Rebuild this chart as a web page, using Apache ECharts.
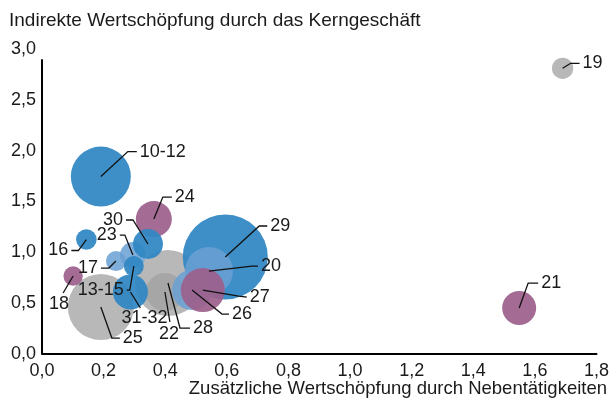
<!DOCTYPE html>
<html>
<head>
<meta charset="utf-8">
<script src="https://cdn.jsdelivr.net/npm/echarts@6/dist/echarts.min.js"></script>
<style>html,body{margin:0;padding:0;background:#fff}#c{width:612px;height:400px}</style>
</head>
<body>
<div id="c"></div>
<script>
// ---- data (draw order) ----
const labels = ['25','28','22','18','16','10-12','24','29','20','26','27','23','17','30','13-15','31-32','19','21'];
const xValues = [0.191,0.409,0.399,0.101,0.144,0.191,0.363,0.595,0.542,0.487,0.522,0.295,0.240,0.344,0.298,0.287,1.690,1.549];
const yValues = [0.462,0.698,0.610,0.767,1.126,1.745,1.327,0.954,0.816,0.629,0.629,0.973,0.914,1.082,0.865,0.610,2.81,0.452];
const bubbleValues = [10.9,10.9,3.6,0.94,1.06,9.0,3.24,18.1,5.76,4.0,4.84,1.69,1.0,2.25,1.0,3.06,1.14,2.89];
const groups = ['gray','gray','gray','purple','blue','blue','purple','blue','light','light','purple','light','light','blue','blue','blue','gray','purple'];
const xTickLabels = ['0,0','0,2','0,4','0,6','0,8','1,0','1,2','1,4','1,6','1,8'];
const yTickLabels = ['0,0','0,5','1,0','1,5','2,0','2,5','3,0'];
const yAxisLineTop = 2.9;

// ---- styles ----
const groupStyle = {
  blue:   {color:'#2f87c3', opacity:0.93},
  light:  {color:'#6aa0d4', opacity:0.85},
  purple: {color:'#9c5f8b', opacity:0.92},
  gray:   {color:'#a0a0a0', opacity:0.75}
};
// leader line layout in pixels: elbow (ex,ey), end (tx,ty), text anchor
const leaderLayout = {
  '19':   {ex:8, ey:-5, tx:17, ty:-5, align:'left'},
  '21':   {ex:9, ey:-25, tx:19, ty:-25, align:'left'},
  '10-12':{ex:27, ey:-25, tx:36, ty:-25, align:'left'},
  '24':   {ex:9, ey:-22, tx:18, ty:-22, align:'left'},
  '29':   {ex:34, ey:-31, tx:42, ty:-31, align:'left'},
  '20':   {ex:43, ey:-5, tx:49, ty:-5, align:'left'},
  '27':   {ex:36, ey:6, tx:44, ty:7, align:'left'},
  '26':   {ex:30, ey:24, tx:37, ty:24, align:'left'},
  '28':   {ex:12, ey:45, tx:22, ty:45, align:'left'},
  '25':   {ex:11, ey:31, tx:19, ty:31, align:'left'},
  '30':   {ex:-15, ey:-24, tx:-22, ty:-24, align:'right'},
  '23':   {ex:-8, ey:-20, tx:-13, ty:-20, align:'right'},
  '16':   {ex:-8, ey:11, tx:-15, ty:11, align:'right'},
  '17':   {ex:-7, ey:7, tx:-15, ty:7, align:'right'},
  '13-15':{ex:-4, ey:24, tx:-7, ty:24, align:'right'},
  '22':   {ex:5, ey:30, tx:5, ty:30, align:'below', bx:-1, by:3},
  '31-32':{ex:10, ey:16, tx:10, ty:16, align:'below', bx:4, by:1},
  '18':   {ex:-10, ey:17, tx:-10, ty:17, align:'below', bx:-4, by:2}
};
const FONT = '18px "Liberation Sans", Arial, sans-serif';

const points = labels.map((l,i)=>({
  value:[xValues[i], yValues[i], bubbleValues[i]],
  name:l,
  itemStyle:{color:groupStyle[groups[i]].color, opacity:groupStyle[groups[i]].opacity}
}));

const chart = echarts.init(document.getElementById('c'), null, {renderer:'canvas'});
chart.setOption({
  animation:false,
  backgroundColor:'#fff',
  title:[
    {text:'Indirekte Wertschöpfung durch das Kerngeschäft', left:4, top:6,
     textStyle:{fontFamily:'Liberation Sans', fontSize:19, fontWeight:'normal', color:'#1a1a1a'}},
    {text:'Zusätzliche Wertschöpfung durch Nebentätigkeiten', right:0, top:374,
     textStyle:{fontFamily:'Liberation Sans', fontSize:18.5, fontWeight:'normal', color:'#1a1a1a'}}
  ],
  grid:{left:42, top:49, width:555, height:305, containLabel:false},
  xAxis:{type:'value', min:0, max:1.8, interval:0.2,
    axisLine:{show:true, onZero:false, lineStyle:{color:'#000', width:2}},
    axisTick:{show:false}, splitLine:{show:false},
    axisLabel:{margin:8, color:'#1a1a1a', fontFamily:'Liberation Sans', fontSize:18,
      formatter:(v)=>xTickLabels[Math.round(v/0.2)]}},
  yAxis:{type:'value', min:0, max:3, interval:0.5,
    axisLine:{show:false},
    axisTick:{show:false}, splitLine:{show:false},
    axisLabel:{margin:6, color:'#1a1a1a', fontFamily:'Liberation Sans', fontSize:18,
      formatter:(v)=>yTickLabels[Math.round(v/0.5)]}},
  series:[
    {type:'scatter', data:points, symbolSize:(v)=>Math.sqrt(v[2])*20, z:2,
     markLine:{silent:true, symbol:'none', label:{show:false},
       lineStyle:{color:'#000', width:2, type:'solid'},
       data:[[{coord:[0,0]},{coord:[0,yAxisLineTop]}]]}},
    {type:'custom', z:5, clip:false,
     data:labels.map((l,i)=>[xValues[i], yValues[i]]),
     renderItem:function(params, api){
       const i = params.dataIndex;
       const c = api.coord([api.value(0), api.value(1)]);
       const L = leaderLayout[labels[i]];
       const e = [c[0]+L.ex, c[1]+L.ey];
       const t = [c[0]+L.tx, c[1]+L.ty];
       let tx, ty, align, va;
       if (L.align==='left'){tx=t[0]+3; ty=t[1]; align='left'; va='middle';}
       else if (L.align==='right'){tx=t[0]-3; ty=t[1]; align='right'; va='middle';}
       else {tx=t[0]+L.bx; ty=t[1]+L.by; align='center'; va='top';}
       return {type:'group', children:[
         {type:'polyline', shape:{points:[c,e,t]}, style:{stroke:'#111', lineWidth:1.3, fill:null}},
         {type:'text', x:tx, y:ty, style:{text:labels[i], fill:'#1a1a1a', font:FONT, align:align, verticalAlign:va}}
       ]};
     }}
  ]
});
</script>
</body>
</html>
